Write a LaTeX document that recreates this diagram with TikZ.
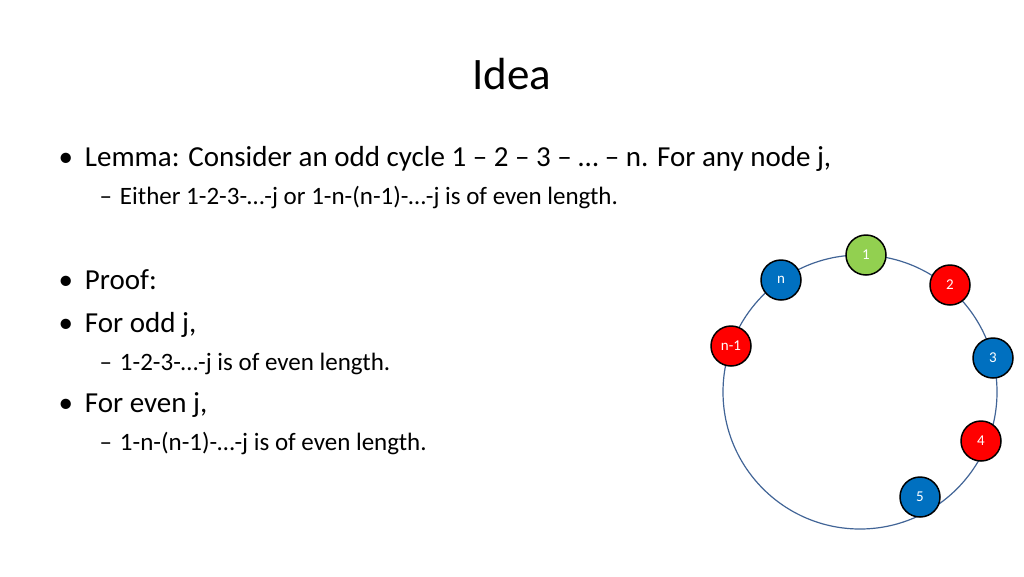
\documentclass[tikz,border=0pt]{standalone}
\usepackage{fontspec}
\setmainfont{Carlito}
\definecolor{ringblue}{RGB}{65,100,150}
\definecolor{nodeblue}{RGB}{0,112,192}
\definecolor{nodegreen}{RGB}{146,208,80}
\begin{document}
\begin{tikzpicture}[x=1pt,y=-1pt,
    vtx/.style={circle,draw=black,line width=1.5pt,minimum size=40pt,inner sep=0pt,text=white,font=\fontsize{15}{17}\selectfont},
    lvl/.style={anchor=base west,font=\fontsize{29}{33}\selectfont},
    sub/.style={anchor=base west,font=\fontsize{25}{29}\selectfont}]
    \useasboundingbox (0,0) rectangle (1024,576);
    % Title
    \node[font=\fontsize{45}{50}\selectfont] (title) at (512,74) {Idea};

    % Text
    \node[lvl] (l1) at (55,166) {\textbullet\hspace{12pt}Lemma: Consider an odd cycle 1 -- 2 -- 3 -- … -- n. For any node j,};
    \node[sub] (l2) at (96,204) {--\hspace{8pt}Either 1-2-3-…-j or 1-n-(n-1)-…-j is of even length.};
    \node[lvl] (l3) at (55,289) {\textbullet\hspace{12pt}Proof:};
    \node[lvl] (l4) at (55,332) {\textbullet\hspace{12pt}For odd j,};
    \node[sub] (l5) at (96,370) {--\hspace{8pt}1-2-3-…-j is of even length.};
    \node[lvl] (l6) at (55,412) {\textbullet\hspace{12pt}For even j,};
    \node[sub] (l7) at (96,450) {--\hspace{8pt}1-n-(n-1)-…-j is of even length.};

    % Cycle
    \draw[ringblue,line width=1.2pt] (860,392) circle (137);
    \node[vtx,fill=nodegreen] (v1) at (866,255) {1};
    \node[vtx,fill=red] (v2) at (950,285) {2};
    \node[vtx,fill=nodeblue] (v3) at (993,358) {3};
    \node[vtx,fill=red] (v4) at (981,441) {4};
    \node[vtx,fill=nodeblue] (v5) at (920,497) {5};
    \node[vtx,fill=red] (vm) at (731,346) {n-1};
    \node[vtx,fill=nodeblue] (vn) at (781,280) {n};
\end{tikzpicture}
\end{document}
